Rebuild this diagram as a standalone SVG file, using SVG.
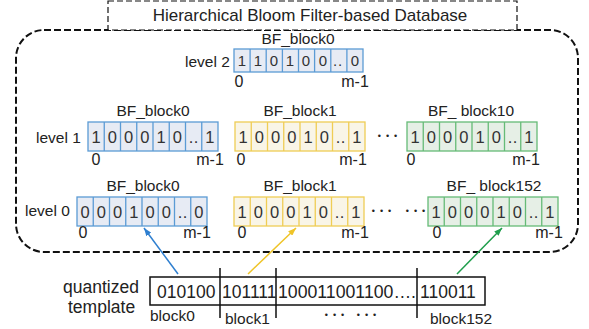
<svg xmlns="http://www.w3.org/2000/svg" xmlns:xlink="http://www.w3.org/1999/xlink" width="589" height="329" viewBox="0 0 589 329">
<style>
text{font-family:"Liberation Sans",Arial,sans-serif;fill:#222}
.t{font-size:17px}
.lab{font-size:15.5px}
.lv{font-size:15.5px}
.d{font-size:16.5px;fill:#333;text-anchor:middle}
.d2{font-size:15px;fill:#333;text-anchor:middle}
.ix{font-size:16px;text-anchor:middle}
.c{text-anchor:middle}
.dots{font-size:9px;text-anchor:middle;letter-spacing:5px}
.blue{fill:#e7ebf4;stroke:#5b9bd5;stroke-width:1.3}
.yel{fill:#f9f5e7;stroke:#efcd55;stroke-width:1.3}
.grn{fill:#e6efe6;stroke:#66bb77;stroke-width:1.3}
.q{font-size:17.5px}
</style>
<defs>
<g id="g29"><rect x="0" y="0" width="130" height="29"/><path d="M16.25 0V29M32.5 0V29M48.75 0V29M65 0V29M81.25 0V29M97.5 0V29M113.75 0V29" fill="none"/></g>
<g id="g23"><rect x="0" y="0" width="129" height="23"/><path d="M16.1 0V23M32.2 0V23M48.4 0V23M64.5 0V23M80.6 0V23M96.8 0V23M112.9 0V23" fill="none"/></g>
<marker id="ab" markerWidth="8" markerHeight="6" refX="8" refY="3" orient="auto" markerUnits="userSpaceOnUse"><path d="M0,0L8,3L0,6z" fill="#2f7fd0"/></marker>
<marker id="ay" markerWidth="8" markerHeight="6" refX="8" refY="3" orient="auto" markerUnits="userSpaceOnUse"><path d="M0,0L8,3L0,6z" fill="#efc428"/></marker>
<marker id="ag" markerWidth="8" markerHeight="6" refX="8" refY="3" orient="auto" markerUnits="userSpaceOnUse"><path d="M0,0L8,3L0,6z" fill="#1f9e4c"/></marker>
</defs>

<g id="database">
<rect x="16" y="30" width="562" height="222" rx="28" fill="none" stroke="#111" stroke-width="2" stroke-dasharray="7 3"/>
</g>
<g id="title">
<rect x="108" y="1" width="409" height="29" fill="#fff" stroke="#111" stroke-width="1.2" stroke-dasharray="6 3"/>
<text class="t c" x="310" y="21">Hierarchical Bloom Filter-based Database</text>
</g>

<g id="level2">
<text class="lv" x="185" y="67">level 2</text>
<text class="lab c" x="298" y="44">BF_block0</text>
<use xlink:href="#g23" class="blue" x="234" y="49"/>
<text class="d2" x="242 258 274 290 306 323 335 340 355" y="66">110100..0</text>
<text class="ix" x="239" y="87">0</text>
<text class="ix" x="355" y="87">m-1</text>
</g>

<g id="level1">
<text class="lv" x="36" y="143">level 1</text>
<g id="l1b0">
<text class="lab c" x="153" y="116">BF_block0</text>
<use xlink:href="#g29" class="blue" x="88" y="122"/>
<text class="d" x="96.1 112.4 128.6 144.9 161.1 177.4 191 196 209.9" y="142.5">100010..1</text>
<text class="ix" x="96" y="165">0</text>
<text class="ix" x="210" y="165">m-1</text>
</g>
<g id="l1b1">
<text class="lab c" x="300" y="116">BF_block1</text>
<use xlink:href="#g29" class="yel" x="235" y="122"/>
<text class="d" x="243.1 259.4 275.6 291.9 308.1 324.4 338 343 356.9" y="142.5">100010..1</text>
<text class="ix" x="241" y="165">0</text>
<text class="ix" x="353" y="165">m-1</text>
</g>
<text class="dots" x="390" y="139">•••</text>
<g id="l1b10">
<text class="lab c" x="471" y="116">BF_ block10</text>
<use xlink:href="#g29" class="grn" x="407" y="122"/>
<text class="d" x="415.1 431.4 447.6 463.9 480.1 496.4 510 515 528.9" y="142.5">100010..1</text>
<text class="ix" x="411" y="165">0</text>
<text class="ix" x="526" y="165">m-1</text>
</g>
</g>

<g id="level0">
<text class="lv" x="25" y="216">level 0</text>
<g id="l0b0">
<text class="lab c" x="143" y="191">BF_block0</text>
<use xlink:href="#g29" class="blue" x="77" y="197"/>
<text class="d" x="85.1 101.4 117.6 133.9 150.1 166.4 180 185 198.9" y="217.5">000100..0</text>
<text class="ix" x="83" y="238">0</text>
<text class="ix" x="197" y="238">m-1</text>
</g>
<g id="l0b1">
<text class="lab c" x="300" y="191">BF_block1</text>
<use xlink:href="#g29" class="yel" x="234" y="197"/>
<text class="d" x="242.1 258.4 274.6 290.9 307.1 323.4 337 342 355.9" y="217.5">100010..1</text>
<text class="ix" x="242" y="238">0</text>
<text class="ix" x="355" y="238">m-1</text>
</g>
<text class="dots" x="384" y="214">•••</text>
<text class="dots" x="418" y="214">•••</text>
<g id="l0b152">
<text class="lab c" x="494" y="191">BF_ block152</text>
<use xlink:href="#g29" class="grn" x="428" y="197"/>
<text class="d" x="436.1 452.4 468.6 484.9 501.1 517.4 531 536 549.9" y="217.5">100010..1</text>
<text class="ix" x="437" y="238">0</text>
<text class="ix" x="549" y="238">m-1</text>
</g>
</g>

<g id="template">
<text class="q" x="63" y="293">quantized</text>
<text class="q" x="68" y="313">template</text>
<rect x="150" y="277" width="335" height="28" fill="#fff" stroke="#111" stroke-width="1.5"/>
<path d="M220 268V318M276 268V318M417 268V318" stroke="#111" stroke-width="1.5" fill="none"/>
<text class="q" x="157" y="298">010100</text>
<text class="q" x="222" y="298">101111</text>
<text class="q" x="278" y="298" textLength="138" lengthAdjust="spacingAndGlyphs">100011001100….</text>
<text class="q" x="420" y="298">110011</text>
<text class="lab" x="150" y="321">block0</text>
<text class="lab" x="225" y="324">block1</text>
<text class="dots" x="353" y="318">••• •••</text>
<text class="lab" x="430" y="324">block152</text>
</g>

<g id="connectors" fill="none" stroke-width="1.5">
<line x1="178" y1="274" x2="144" y2="228" stroke="#2f7fd0" marker-end="url(#ab)"/>
<line x1="248" y1="274" x2="296" y2="228" stroke="#efc428" marker-end="url(#ay)"/>
<line x1="457" y1="274" x2="502" y2="228" stroke="#1f9e4c" marker-end="url(#ag)"/>
</g>
</svg>
